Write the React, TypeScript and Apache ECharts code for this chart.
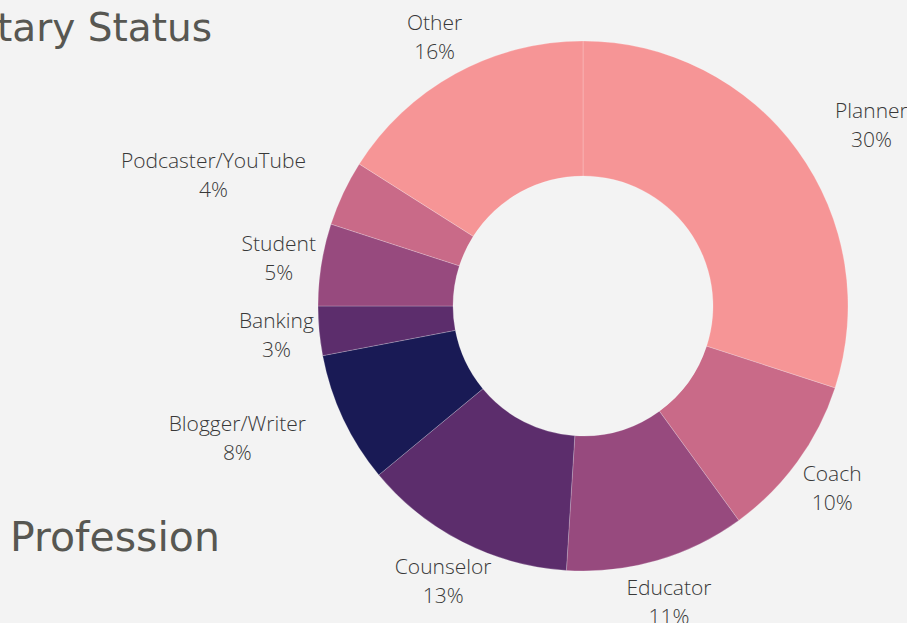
import React, { useEffect, useRef } from "react";
import * as echarts from "echarts";

const categories = ["Planner", "Coach", "Educator", "Counselor", "Blogger/Writer", "Banking", "Student", "Podcaster/YouTube", "Other"];
const shares = [30, 10, 11, 13, 8, 3, 5, 4, 16];
const sliceColors = ["#f69596", "#c96a88", "#974a7e", "#5c2d6c", "#191a55", "#5c2d6c", "#974a7e", "#c96a88", "#f69596"];
const topTitle = "tary Status";
const bottomTitle = "Profession";

const CX = 583;
const CY = 306;
const R_IN = 130;
const R_OUT = 265;
const LABEL_R = 308;

export default function App() {
  const ref = useRef<HTMLDivElement>(null);
  useEffect(() => {
    if (!ref.current) return;
    const chart = echarts.init(ref.current, undefined, { renderer: "svg" });
    const total = shares.reduce((a, b) => a + b, 0);
    const mids: number[] = [];
    let cum = 0;
    shares.forEach((v) => {
      mids.push(((cum + v / 2) / total) * Math.PI * 2);
      cum += v;
    });
    chart.setOption({
      animation: false,
      backgroundColor: "#f3f3f3",
      graphic: [
        {
          type: "text",
          x: 212,
          y: 27,
          style: {
            text: topTitle,
            fill: "#575752",
            font: "39px 'DejaVu Sans'",
            align: "right",
            verticalAlign: "middle",
          },
        },
        {
          type: "text",
          x: 10,
          y: 537,
          style: {
            text: bottomTitle,
            fill: "#575752",
            font: "41px 'DejaVu Sans'",
            align: "left",
            verticalAlign: "middle",
          },
        },
      ],
      series: [
        {
          type: "pie",
          center: [CX, CY],
          radius: [R_IN, R_OUT],
          startAngle: 90,
          clockwise: true,
          avoidLabelOverlap: false,
          itemStyle: { borderColor: "rgba(255,255,255,0.35)", borderWidth: 0.6 },
          emphasis: { disabled: true },
          label: {
            show: true,
            position: "outside",
            formatter: (p: any) => `${p.name}\n${p.value}%`,
            fontFamily: "'Open Sans'",
            fontWeight: 300,
            fontSize: 21,
            lineHeight: 29,
            color: "#383838",
            align: "center",
          },
          labelLine: { show: false },
          labelLayout: (params: any) => {
            const i = params.dataIndex;
            const th = mids[i];
            const dx = Math.sin(th);
            const dy = -Math.cos(th);
            const w = params.labelRect.width;
            const halfH = 24;
            let x = CX + dx * LABEL_R;
            const y = CY + dy * LABEL_R;
            const sx = dx >= 0 ? 1 : -1;
            const sy = dy >= 0 ? 1 : -1;
            const nx = x - CX - sx * w / 2;
            const ny = y - CY - sy * halfH;
            const nearX = Math.sign(nx) === sx ? nx : 0;
            const nearY = Math.sign(ny) === sy ? ny : 0;
            if (Math.hypot(nearX, nearY) < R_OUT + 0.5) {
              const clear = 297;
              const px = Math.sqrt(Math.max(clear * clear - nearY * nearY, 0));
              x = CX + sx * (px + w / 2);
            }
            return { x, y, align: "center", verticalAlign: "middle" };
          },
          data: categories.map((name, i) => ({
            name,
            value: shares[i],
            itemStyle: { color: sliceColors[i] },
          })),
        },
      ],
    });
    return () => chart.dispose();
  }, []);
  return (
    <div
      ref={ref}
      style={{ position: "fixed", left: 0, top: 0, width: 907, height: 623, background: "#f3f3f3" }}
    />
  );
}
